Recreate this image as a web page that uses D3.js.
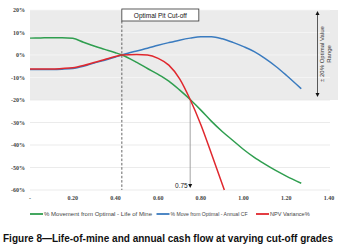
<!DOCTYPE html>
<html><head><meta charset="utf-8">
<script src="https://cdn.jsdelivr.net/npm/d3@7"></script>
<style>body{margin:0;background:#fff}svg{display:block}</style>
</head><body>
<script>
const cutoff = [0,0.05,0.10,0.15,0.20,0.25,0.30,0.35,0.40,0.43,0.50,0.55,0.60,0.65,0.70,0.75,0.80,0.85,0.90,0.95,1.00,1.05,1.10,1.15,1.20,1.27];
const lifeOfMine = [7.5,7.6,7.7,7.7,7.4,5.7,4.0,2.5,1.0,0,-3.3,-6.0,-8.6,-11.6,-15.5,-19.8,-24.5,-29.5,-34,-38,-42,-45.5,-48.5,-51.3,-53.8,-57];
const annualCF = [-6.4,-6.4,-6.4,-6.3,-6.0,-5.0,-3.6,-2.3,-0.9,0,1.8,3.0,4.3,5.5,6.6,7.5,8.1,8.1,7.2,5.6,3.7,1.5,-1.5,-5,-9,-15];
const npvCutoff = [0,0.05,0.10,0.15,0.20,0.25,0.30,0.35,0.40,0.43,0.50,0.55,0.60,0.65,0.70,0.75,0.80,0.85,0.91];
const npvVariance = [-6.2,-6.2,-6.2,-6.0,-5.7,-4.7,-3.3,-2.0,-0.7,0,0.2,0,-1.5,-4.5,-10.5,-19.8,-31,-44,-60];
const xTicks = [0,0.2,0.4,0.6,0.8,1.0,1.2,1.4];
const xTickLabels = ["-","0.20","0.40","0.60","0.80","1.00","1.20","1.40"];
const yTicks = [20,10,0,-10,-20,-30,-40,-50,-60];
const seriesNames = ["% Movement from Optimal - Life of Mine","% Move from Optimal - Annual CF","NPV Variance%"];
const seriesColors = ["#2f9e4f","#3a7bbf","#e0282e"];
const optimalCutoff = 0.43;
const breakCutoff = 0.75;
const bandRange = [20,-20];

const W=348,H=250;
const svg=d3.select("body").append("svg").attr("width",W).attr("height",H);
const x=d3.scaleLinear().domain([0,1.4]).range([30,329]);
const y=d3.scaleLinear().domain([-60,20]).range([190,10]);

// band
svg.append("rect").attr("x",30).attr("y",y(bandRange[0])).attr("width",338-30)
  .attr("height",y(bandRange[1])-y(bandRange[0])).attr("fill","#ebebeb");
// gridlines
svg.append("g").selectAll("line").data(yTicks).join("line")
  .attr("x1",30).attr("x2",330).attr("y1",d=>y(d)).attr("y2",d=>y(d))
  .attr("stroke",d=>(d<=bandRange[0]&&d>bandRange[1])?"#f6f6f6":"#e6e6e6").attr("stroke-width",0.8);

// y axis labels
const serif="'Liberation Serif','DejaVu Serif',serif";
svg.append("g").selectAll("text").data(yTicks).join("text")
  .attr("x",25).attr("y",d=>y(d)+2).attr("text-anchor","end")
  .attr("font-family",serif).attr("font-size",6).attr("font-weight","bold").attr("fill","#444")
  .text(d=>d+"%");
// x axis labels
svg.append("g").selectAll("text").data(xTicks).join("text")
  .attr("x",d=>x(d)).attr("y",200).attr("text-anchor","middle")
  .attr("font-family",serif).attr("font-size",6).attr("font-weight","bold").attr("fill","#444")
  .text((d,i)=>xTickLabels[i]);

// dashed optimal line
svg.append("line").attr("x1",x(optimalCutoff)).attr("x2",x(optimalCutoff)).attr("y1",21).attr("y2",190)
  .attr("stroke","#555").attr("stroke-width",0.9).attr("stroke-dasharray","2.5,1.8");

// 0.75 annotation line
svg.append("line").attr("x1",x(breakCutoff)).attr("x2",x(breakCutoff)).attr("y1",y(-19.8)).attr("y2",185)
  .attr("stroke","#999").attr("stroke-width",0.9);

const line=d3.line().curve(d3.curveMonotoneX);
const series=[
  {xs:cutoff,ys:lifeOfMine},
  {xs:cutoff,ys:annualCF},
  {xs:npvCutoff,ys:npvVariance}
];
[1,0,2].forEach(i=>{
  const s=series[i];
  svg.append("path").attr("d",line(s.xs.map((v,j)=>[x(v),y(s.ys[j])])))
    .attr("fill","none").attr("stroke",seriesColors[i]).attr("stroke-width",1.5);
});

// arrow head for 0.75
const ax=x(breakCutoff);
svg.append("path").attr("d",`M${ax-2},${184}L${ax+2},${184}L${ax},${188}Z`).attr("fill","#111");
svg.append("text").attr("x",ax-2.5).attr("y",188).attr("text-anchor","end")
  .attr("font-family","'Liberation Sans',Arial,sans-serif").attr("font-size",6.5).attr("fill","#222").text(breakCutoff.toFixed(2));

// box label
const bx=x(optimalCutoff);
svg.append("rect").attr("x",bx).attr("y",9).attr("width",77).attr("height",12)
  .attr("fill","#fff").attr("stroke","#333").attr("stroke-width",0.8);
svg.append("text").attr("x",bx+38.5).attr("y",17.5).attr("text-anchor","middle")
  .attr("font-family","'Liberation Sans',Arial,sans-serif").attr("font-size",6.5).attr("fill","#111").text("Optimal Pit Cut-off");

// double arrow on right
const rx=317.5;
svg.append("line").attr("x1",rx).attr("x2",rx).attr("y1",13).attr("y2",95).attr("stroke","#333").attr("stroke-width",0.8);
svg.append("path").attr("d",`M${rx-2},15L${rx+2},15L${rx},11Z`).attr("fill","#111");
svg.append("path").attr("d",`M${rx-2},93L${rx+2},93L${rx},97Z`).attr("fill","#111");
const rt=svg.append("text").attr("transform",`translate(324,54) rotate(-90)`).attr("text-anchor","middle")
  .attr("font-family","'Liberation Sans',Arial,sans-serif").attr("font-size",6).attr("fill","#333");
rt.append("tspan").attr("x",0).attr("y",0).text("± 20% Optimal Value");
rt.append("tspan").attr("x",0).attr("y",6.8).text("Range");

// legend
const legX=[30,156.5,256];
const legW=[108,77,null];
const lg=svg.append("g");
seriesNames.forEach((n,i)=>{
  lg.append("line").attr("x1",legX[i]).attr("x2",legX[i]+13).attr("y1",214).attr("y2",214)
    .attr("stroke",seriesColors[i]).attr("stroke-width",1.8);
  const t=lg.append("text").attr("x",legX[i]+14).attr("y",216).attr("font-family","'Liberation Sans',Arial,sans-serif")
    .attr("font-size",5.6).attr("fill","#444").text(n);
  if(legW[i]) t.attr("textLength",legW[i]).attr("lengthAdjust","spacingAndGlyphs");
});

// title
svg.append("text").attr("x",3).attr("y",241.5).attr("font-family","'Liberation Sans',Arial,sans-serif")
  .attr("font-weight","bold").attr("font-size",10.5).attr("fill","#111")
  .attr("textLength",330).attr("lengthAdjust","spacingAndGlyphs")
  .text("Figure 8\u2014Life-of-mine and annual cash flow at varying cut-off grades");
</script>
</body></html>
